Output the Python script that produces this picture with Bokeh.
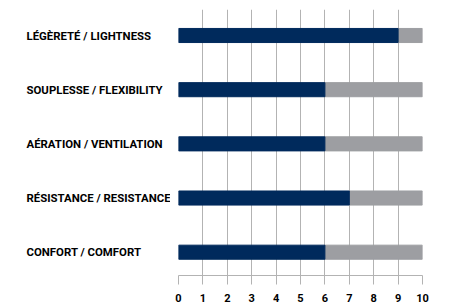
from bokeh.plotting import figure
from bokeh.layouts import row
from bokeh.models import Range1d, ColumnDataSource, FixedTicker
from bokeh.core.properties import value
from bokeh.embed import file_html
from bokeh.resources import INLINE

categories = ["LÉGÈRETÉ / LIGHTNESS", "SOUPLESSE / FLEXIBILITY", "AÉRATION / VENTILATION",
              "RÉSISTANCE / RESISTANCE", "CONFORT / COMFORT"]
scores = [9, 6, 6, 7, 6]
max_score = 10
ticks = list(range(0, 11))

NAVY = "#002a5c"
GRAY = "#9d9ea2"
GRID = "#b3b3b3"

idx = list(range(len(categories)))
src = ColumnDataSource(dict(y=idx, score=scores, full=[max_score] * len(scores),
                            zero=[0] * len(scores), label=categories))

yr = Range1d(4.43, -0.48)

# label panel
lp = figure(frame_width=170, frame_height=266, min_border_left=0, min_border_right=0,
            min_border_top=9, min_border_bottom=31,
            x_range=Range1d(0, 170), y_range=yr,
            output_backend="svg", toolbar_location=None)
lp.axis.visible = False
lp.grid.visible = False
lp.outline_line_color = None
lp.text(x="zero", y="y", text="label", source=src, x_offset=26, text_align="left",
        text_baseline="middle", text_font=value("Roboto"), text_font_style="bold",
        text_font_size="11.4px", text_color="#000000")

p = figure(frame_width=244, frame_height=266, min_border_left=8, min_border_right=20,
           min_border_top=9, min_border_bottom=31,
           x_range=Range1d(0, 10), y_range=yr,
           output_backend="svg", toolbar_location=None)
p.outline_line_color = None
p.background_fill_color = "white"

p.hbar(y="y", left="score", right="full", height=0.26, color=GRAY, source=src)
p.hbar(y="y", left="zero", right="score", height=0.26, color=NAVY, source=src)

p.yaxis.visible = False
p.ygrid.visible = False
p.xgrid.ticker = FixedTicker(ticks=ticks)
p.xgrid.grid_line_color = GRID
p.xgrid.grid_line_width = 1
p.xgrid.level = "underlay"

ax = p.xaxis[0]
ax.ticker = FixedTicker(ticks=ticks)
ax.axis_line_color = GRID
ax.major_tick_line_color = GRID
ax.major_tick_out = 9
ax.major_tick_in = 0
ax.minor_tick_line_color = None
ax.major_label_standoff = 9
ax.major_label_text_font = "Roboto"
ax.major_label_text_font_style = "bold"
ax.major_label_text_font_size = "11px"
ax.major_label_text_color = "#000000"

layout = row(lp, p, spacing=0)
open("out.html", "w").write(file_html(layout, INLINE))
